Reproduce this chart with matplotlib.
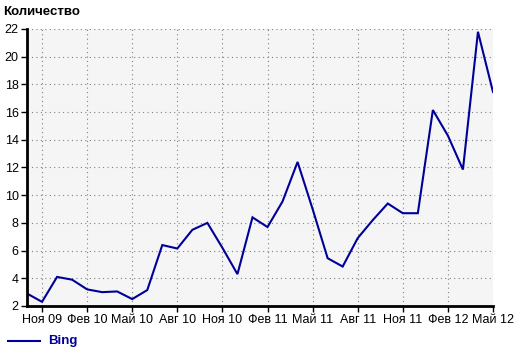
import matplotlib
matplotlib.use("Agg")
import matplotlib.pyplot as plt

months = ["Окт 09", "Ноя 09", "Дек 09", "Янв 10", "Фев 10", "Мар 10", "Апр 10", "Май 10",
          "Июн 10", "Июл 10", "Авг 10", "Сен 10", "Окт 10", "Ноя 10", "Дек 10", "Янв 11",
          "Фев 11", "Мар 11", "Апр 11", "Май 11", "Июн 11", "Июл 11", "Авг 11", "Сен 11",
          "Окт 11", "Ноя 11", "Дек 11", "Янв 12", "Фев 12", "Мар 12", "Апр 12", "Май 12"]
bing = [2.9, 2.3, 4.1, 3.9, 3.2, 3.0, 3.05, 2.5,
        3.15, 6.4, 6.15, 7.5, 8.0, 6.2, 4.3, 8.4,
        7.7, 9.55, 12.4, 9.0, 5.45, 4.85, 6.9, 8.2,
        9.4, 8.7, 8.7, 16.15, 14.3, 11.85, 21.8, 17.45]
tick_labels = ["Ноя 09", "Фев 10", "Май 10", "Авг 10", "Ноя 10", "Фев 11",
               "Май 11", "Авг 11", "Ноя 11", "Фев 12", "Май 12"]
y_ticks = [2, 4, 6, 8, 10, 12, 14, 16, 18, 20, 22]
series_name = "Bing"
y_title = "Количество"

plt.rcParams['font.family'] = ['Liberation Sans', 'DejaVu Sans']
W, H = 520, 353
fig = plt.figure(figsize=(W / 100, H / 100), dpi=100)
left, right, top, bottom = 27, 493, 29, 306
ax = fig.add_axes([left / W, 1 - bottom / H, (right - left) / W, (bottom - top) / H])
ax.set_facecolor("#f5f5f5")

x = list(range(len(months)))
line_color = "#000099"
ax.plot(x, bing, color=line_color, lw=1.5, solid_joinstyle="miter")

ax.set_xlim(0, len(months) - 1)
ax.set_ylim(2, 22)
tick_pos = [months.index(t) for t in tick_labels]
ax.set_xticks(tick_pos)
ax.set_xticklabels(tick_labels)
ax.set_yticks(y_ticks)
ax.tick_params(axis="both", labelsize=9, length=4, width=1, color="black", pad=2)
ax.grid(True, linestyle=(0, (1, 3)), color="#808080", lw=0.8)
for s in ["top", "right"]:
    ax.spines[s].set_visible(False)
for s in ["left", "bottom"]:
    ax.spines[s].set_linewidth(2)
    ax.spines[s].set_color("black")

fig.text(3 / W, 1 - 12 / H, y_title, fontsize=9.5, fontweight="bold", va="center", ha="left")
fig.lines.append(matplotlib.lines.Line2D([8 / W, 40 / W], [1 - 341 / H, 1 - 341 / H],
                                         color=line_color, lw=1.5, transform=fig.transFigure))
fig.text(48 / W, 1 - 341 / H, series_name, fontsize=9.5, fontweight="bold", color=line_color,
         va="center", ha="left")

fig.savefig("out.png", dpi=100)
